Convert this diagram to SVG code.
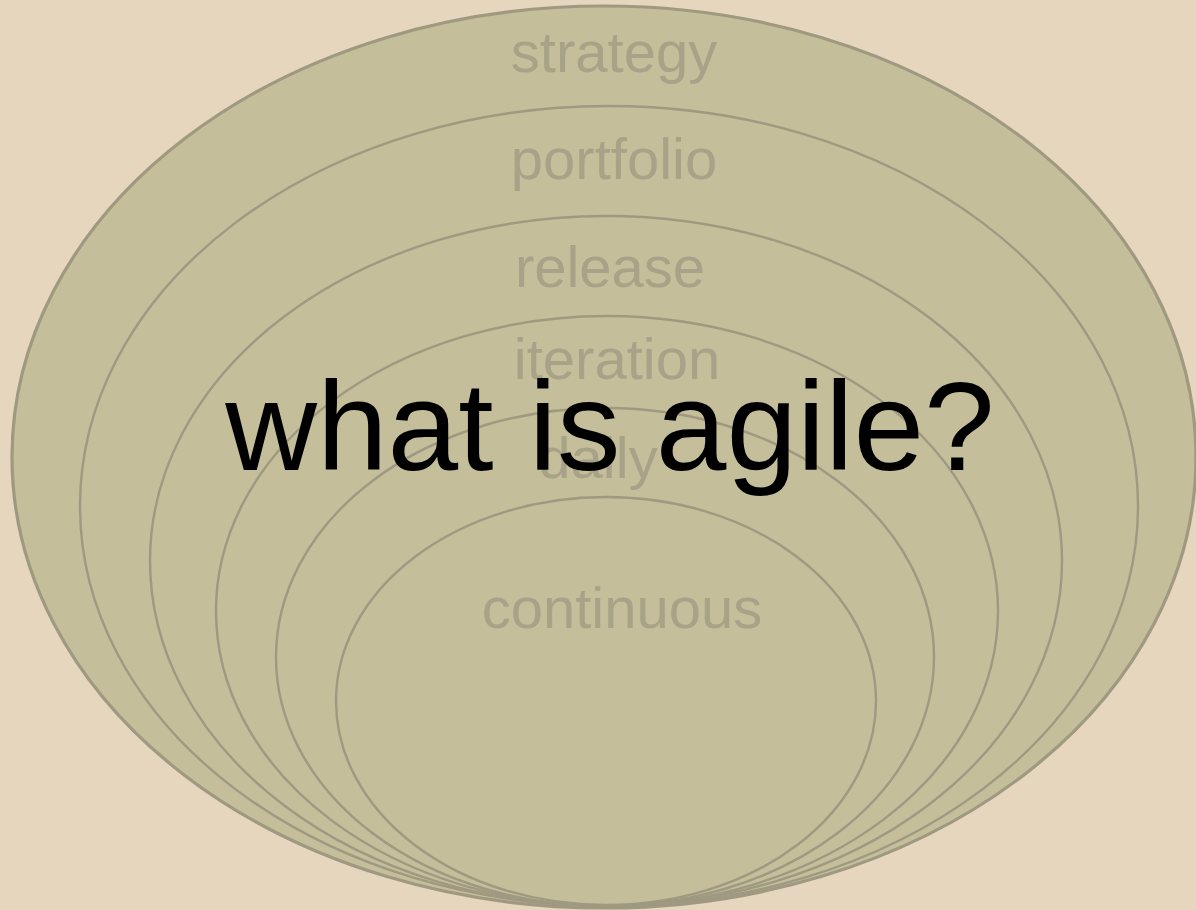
<svg xmlns="http://www.w3.org/2000/svg" width="1196" height="910" viewBox="0 0 1196 910">
  <style>
    .ring { fill: #C4BE9A; stroke: #9F9981; stroke-width: 2.4; }
    .outer { stroke-width: 3.2; }
    .lbl { font-family: "Liberation Sans", Arial, sans-serif; font-size: 58px; fill: #A8A288; text-anchor: middle; }
    .title { font-family: "Liberation Sans", Arial, sans-serif; font-size: 127px; fill: #000000; text-anchor: middle; }
  </style>
  <rect width="1196" height="910" fill="#E5D6BD"/>
  <!-- nested planning horizons, outermost first -->
  <g id="strategy">
    <ellipse class="ring outer" cx="604" cy="457" rx="592" ry="451"/>
    <text class="lbl" x="614" y="72">strategy</text>
  </g>
  <g id="portfolio">
    <ellipse class="ring" cx="609" cy="506" rx="529" ry="400"/>
    <text class="lbl" x="614" y="179">portfolio</text>
  </g>
  <g id="release">
    <ellipse class="ring" cx="606" cy="561" rx="456" ry="345"/>
    <text class="lbl" x="610" y="287">release</text>
  </g>
  <g id="iteration">
    <ellipse class="ring" cx="607" cy="611" rx="391" ry="295"/>
    <text class="lbl" x="617" y="379">iteration</text>
  </g>
  <g id="daily">
    <ellipse class="ring" cx="605" cy="657" rx="329" ry="249"/>
    <text class="lbl" x="598" y="478">daily</text>
  </g>
  <g id="continuous">
    <ellipse class="ring" cx="606" cy="701" rx="270" ry="204"/>
    <text class="lbl" x="622" y="628">continuous</text>
  </g>
  <g id="title">
    <text class="title" x="610" y="470">what is agile?</text>
  </g>
</svg>
